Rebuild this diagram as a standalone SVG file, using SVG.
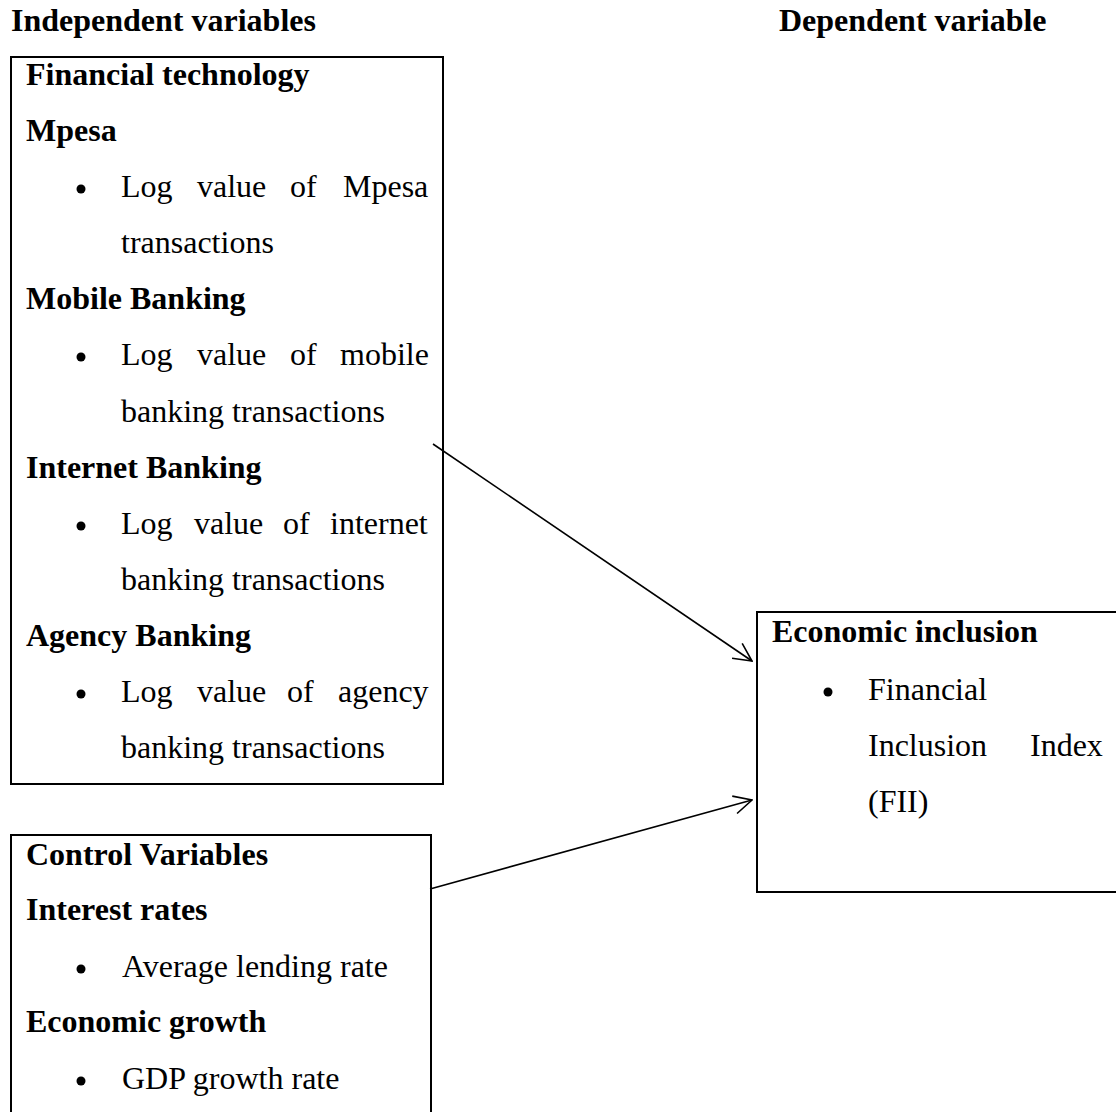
<svg xmlns="http://www.w3.org/2000/svg" width="1116" height="1112" viewBox="0 0 1116 1112">
<style>
text{font-family:"Liberation Serif","Times New Roman",serif;font-size:32px;fill:#000}
.b{font-weight:bold}
.box{fill:#fff;stroke:#000;stroke-width:2}
.bul{fill:#000}
.conn{stroke:#000;stroke-width:1.6;fill:none}
</style>
<defs>
<marker id="ah" viewBox="0 0 20 20" refX="19" refY="10" markerWidth="20" markerHeight="20" markerUnits="userSpaceOnUse" orient="auto">
<path d="M1,1 L19,10 L1,19" fill="none" stroke="#000" stroke-width="1.6"/>
</marker>
</defs>
<rect width="1116" height="1112" fill="#fff"/>
<g id="headers">
<text class="b" x="11" y="31">Independent variables</text>
<text class="b" x="779" y="31">Dependent variable</text>
</g>
<g id="fintech">
<rect class="box" x="11" y="57" width="432" height="727"/>
<text class="b" x="26" y="85">Financial technology</text>
<text class="b" x="26" y="141">Mpesa</text>
<circle class="bul" cx="81" cy="189" r="4.5"/>
<text y="197"><tspan x="121">Log</tspan><tspan x="197">value</tspan><tspan x="290">of</tspan><tspan x="343">Mpesa</tspan></text>
<text x="121" y="253">transactions</text>
<text class="b" x="26" y="309">Mobile Banking</text>
<circle class="bul" cx="81" cy="357" r="4.5"/>
<text y="365"><tspan x="121">Log</tspan><tspan x="197">value</tspan><tspan x="290">of</tspan><tspan x="340">mobile</tspan></text>
<text x="121" y="422">banking transactions</text>
<text class="b" x="26" y="478">Internet Banking</text>
<circle class="bul" cx="81" cy="526" r="4.5"/>
<text y="534"><tspan x="121">Log</tspan><tspan x="194">value</tspan><tspan x="283">of</tspan><tspan x="330">internet</tspan></text>
<text x="121" y="590">banking transactions</text>
<text class="b" x="26" y="646">Agency Banking</text>
<circle class="bul" cx="81" cy="694" r="4.5"/>
<text y="702"><tspan x="121">Log</tspan><tspan x="197">value</tspan><tspan x="287">of</tspan><tspan x="338">agency</tspan></text>
<text x="121" y="758">banking transactions</text>
</g>
<g id="control">
<rect class="box" x="11" y="835" width="420" height="300"/>
<text class="b" x="26" y="865">Control Variables</text>
<text class="b" x="26" y="920">Interest rates</text>
<circle class="bul" cx="81" cy="969" r="4.5"/>
<text x="122" y="977">Average lending rate</text>
<text class="b" x="26" y="1032">Economic growth</text>
<circle class="bul" cx="81" cy="1081" r="4.5"/>
<text x="122" y="1089">GDP growth rate</text>
</g>
<g id="inclusion">
<rect class="box" x="757" y="612" width="380" height="280"/>
<text class="b" x="772" y="642">Economic inclusion</text>
<circle class="bul" cx="828" cy="692" r="4.5"/>
<text x="868" y="700">Financial</text>
<text y="756"><tspan x="868">Inclusion</tspan><tspan x="1030">Index</tspan></text>
<text x="868" y="812">(FII)</text>
</g>
<g id="connectors">
<line class="conn" x1="433" y1="444" x2="752" y2="661" marker-end="url(#ah)"/>
<line class="conn" x1="430" y1="889" x2="752" y2="800" marker-end="url(#ah)"/>
</g>
</svg>
